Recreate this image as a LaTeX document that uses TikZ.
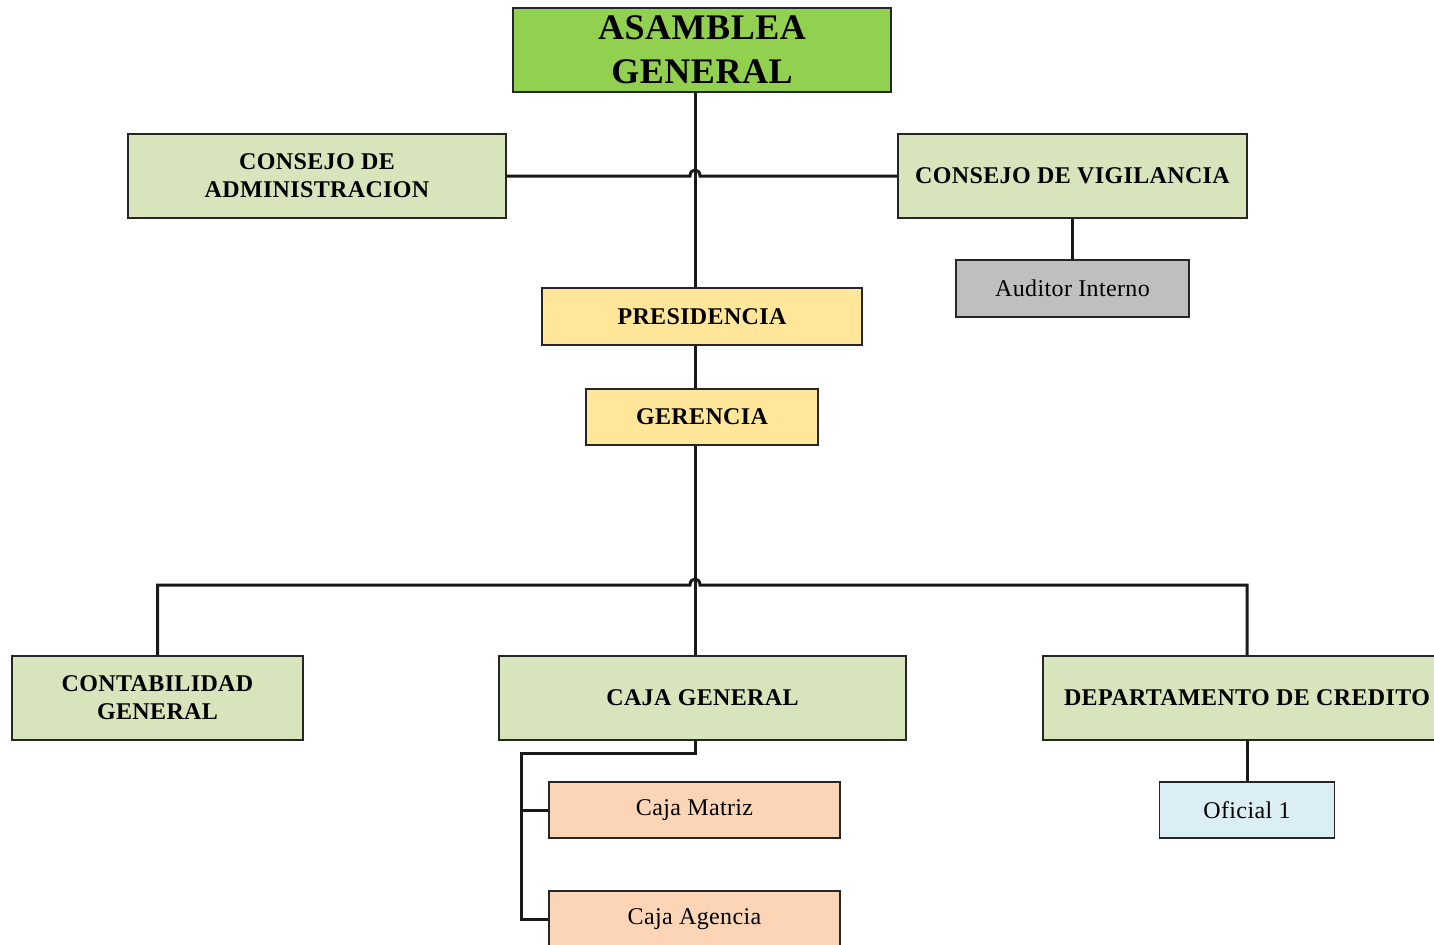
\documentclass[tikz,border=0pt]{standalone}
\usepackage{fontspec}
\setmainfont{Liberation Serif}[LetterSpace=1.5]

\definecolor{asamblea}{HTML}{92D050}
\definecolor{consejo}{HTML}{D8E4BC}
\definecolor{auditor}{HTML}{BFBFBF}
\definecolor{mando}{HTML}{FFE699}
\definecolor{caja}{HTML}{FBD5B5}
\definecolor{oficial}{HTML}{DAEEF3}

\begin{document}
\begin{tikzpicture}[x=0.5pt,y=-0.5pt,
		box/.style={draw=black!85, line width=0.7pt, inner sep=0pt, align=center,
			font=\fontsize{12}{14}\selectfont\bfseries},
		subbox/.style={box, font=\fontsize{12}{14}\selectfont},
		link/.style={line width=1.5pt, black!90}]
		\useasboundingbox (0,0) rectangle (1434,944);
		
		\node[box, fill=asamblea, minimum width=189pt, minimum height=42pt,
			font=\fontsize{18}{22}\selectfont\bfseries] (asamblea) at (702,50) {ASAMBLEA\\GENERAL};
		\node[box, fill=consejo, minimum width=189pt, minimum height=42pt] (admin) at (317,176) {CONSEJO DE\\ADMINISTRACION};
		\node[box, fill=consejo, minimum width=174.5pt, minimum height=42pt] (vigil) at (1072.5,176) {CONSEJO DE VIGILANCIA};
		\node[subbox, fill=auditor, minimum width=116.5pt, minimum height=28.5pt] (auditor) at (1072.5,288.5) {Auditor Interno};
		\node[box, fill=mando, minimum width=160pt, minimum height=28.5pt] (presi) at (702,316.5) {PRESIDENCIA};
		\node[box, fill=mando, minimum width=116pt, minimum height=28pt] (geren) at (702,417) {GERENCIA};
		
		\node[box, fill=consejo, minimum width=145.5pt, minimum height=42pt] (contab) at (157.5,698) {CONTABILIDAD\\GENERAL};
		\node[box, fill=consejo, minimum width=203.5pt, minimum height=42pt] (cajagen) at (702.5,698) {CAJA GENERAL};
		\node[box, fill=consejo, minimum width=204pt, minimum height=42pt] (credito) at (1247,698) {DEPARTAMENTO DE CREDITO};
		\node[subbox, fill=caja, minimum width=145.5pt, minimum height=28pt] (matriz) at (694.5,810) {Caja Matriz};
		\node[subbox, fill=caja, minimum width=145.5pt, minimum height=28pt] (agencia) at (694.5,919) {Caja Agencia};
		\node[subbox, fill=oficial, minimum width=87.5pt, minimum height=28pt] (oficial) at (1247,810) {Oficial 1};
		
		\coordinate (trunk) at (695,0);
		\coordinate (hopa) at (690,176);
		\coordinate (hopb) at (700,176);
		\coordinate (bus) at (0,585);
		\coordinate (hopc) at (690,585);
		\coordinate (hopd) at (700,585);
		\coordinate (cajabus) at (521,753);
		
		% linea principal
		\draw[link] (asamblea.south -| trunk) -- (presi.north -| trunk);
		\draw[link] (admin.east) -- (hopa) .. controls +(0,-8) and +(0,-8) .. (hopb) -- (vigil.west);
		\draw[link] (vigil.south) -- (auditor.north);
		\draw[link] (presi.south -| trunk) -- (geren.north -| trunk);
		\draw[link] (geren.south -| trunk) -- (cajagen.north -| trunk);
		
		% departamentos
		\draw[link] (contab.north) -- (contab.north |- bus) -- (hopc) .. controls +(0,-8) and +(0,-8) .. (hopd)
			-- (credito.north |- bus) -- (credito.north);
		\draw[link] (credito.south) -- (oficial.north);
		
		% cajas
		\draw[link] (cajagen.south -| trunk) -- (cajabus -| trunk) -- (cajabus) -- (cajabus |- agencia.west) -- (agencia.west);
		\draw[link] (cajabus |- matriz.west) -- (matriz.west);
		
		\end{tikzpicture}
\end{document}
